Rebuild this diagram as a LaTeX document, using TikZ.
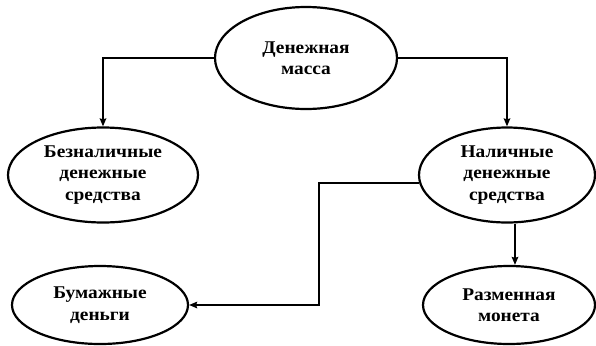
\documentclass[tikz,border=0pt]{standalone}
\usepackage{fontspec}
\setmainfont{Liberation Serif}[FakeStretch=1.08]
\usetikzlibrary{arrows.meta}
\usetikzlibrary{shapes.geometric}

\begin{document}
\begin{tikzpicture}[x=1bp,y=-1bp,
  oval/.style={ellipse,draw,line width=2.2bp,inner sep=0pt,align=center,
               font=\fontsize{18}{21.5}\selectfont\bfseries},
  link/.style={line width=2.2bp,-{Stealth[length=8bp,width=6.5bp,inset=1bp]}}]

  \useasboundingbox[fill=white] (0,0) rectangle (596,345);

  % ===== ellipses =====
  \node[oval,minimum width=182bp,minimum height=102bp] (money) at (306,58)
     {Денежная\\масса};
  \node[oval,minimum width=190bp,minimum height=95bp] (cashless) at (103,175)
     {Безналичные\\денежные\\средства};
  \node[oval,minimum width=176bp,minimum height=95bp] (cash) at (507,175)
     {Наличные\\денежные\\средства};
  \node[oval,minimum width=176bp,minimum height=78bp] (paper) at (100,305)
     {Бумажные\\деньги};
  \node[oval,minimum width=172bp,minimum height=78bp] (coin) at (509,305)
     {Разменная\\монета};

  % ===== links =====
  \draw[link] (money.west) -| (cashless.north);
  \draw[link] (money.east) -| (cash.north);
  \draw[link] (cash.185) -| ([xshift=130bp]paper.east) -- (paper.east);
  \draw[link] ([xshift=8bp]cash.south) -- ([xshift=8bp]cash.south |- coin.north);

\end{tikzpicture}
\end{document}
